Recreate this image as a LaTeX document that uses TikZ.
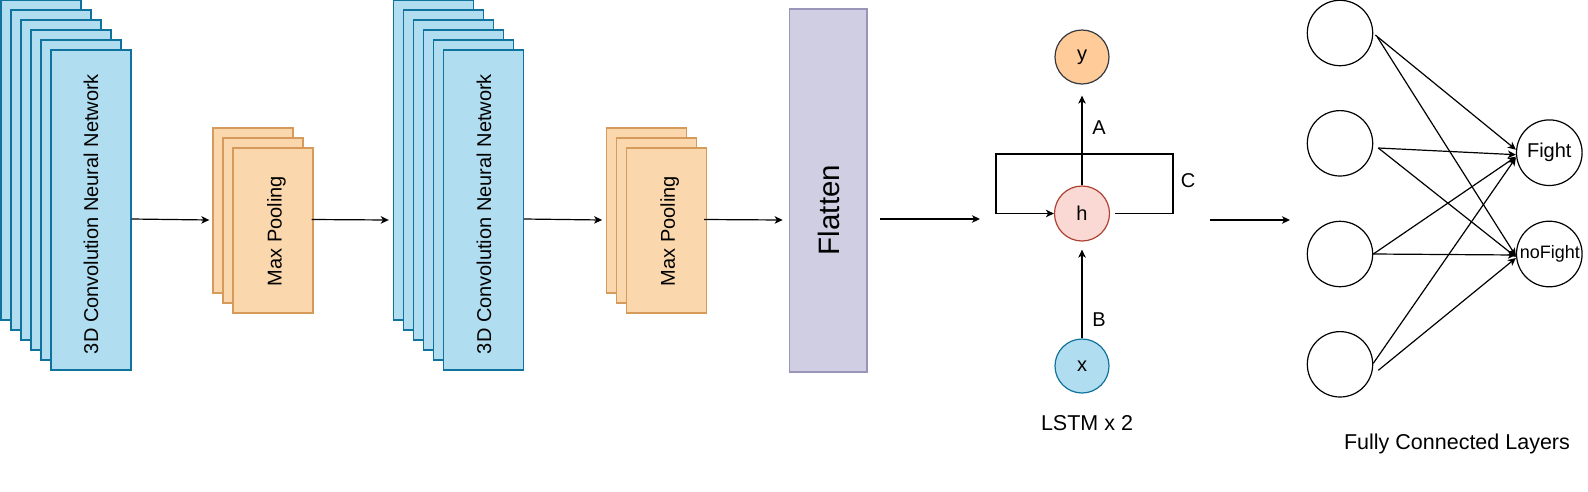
\documentclass[tikz,border=0pt]{standalone}
\usepackage{fontspec}
\setmainfont{Liberation Sans}
\usetikzlibrary{arrows.meta,calc}
\definecolor{convfill}{HTML}{B1DDF0}
\definecolor{convline}{HTML}{10739E}
\definecolor{poolfill}{HTML}{FAD7AC}
\definecolor{poolline}{HTML}{D69A5A}
\definecolor{flatfill}{HTML}{D0CEE2}
\definecolor{flatline}{HTML}{9A95B8}
\definecolor{yfill}{HTML}{FFCC99}
\definecolor{yline}{HTML}{36393D}
\definecolor{hfill}{HTML}{FAD9D5}
\definecolor{hline}{HTML}{AE4132}
\tikzset{
  convbox/.style={draw=convline, fill=convfill, line width=1.4pt, minimum width=80pt, minimum height=320pt, inner sep=0pt},
  poolbox/.style={draw=poolline, fill=poolfill, line width=1.4pt, minimum width=80pt, minimum height=165pt, inner sep=0pt},
  flatbox/.style={draw=flatline, fill=flatfill, line width=1.4pt, minimum width=77.7pt, minimum height=363pt, inner sep=0pt},
  txt/.style={font=\fontsize{20}{24}\selectfont, inner sep=0pt},
  bigtxt/.style={font=\fontsize{21.5}{26}\selectfont, inner sep=0pt},
  vtxt/.style={font=\fontsize{20}{24}\selectfont, inner sep=0pt, rotate=90},
  ring/.style={circle, draw, line width=1.2pt, inner sep=0pt},
  arr/.style={draw, line width=1.2pt, -{Stealth[length=8pt,width=7.5pt,inset=2.2pt]}},
  plain/.style={draw, line width=1.2pt},
}
\begin{document}
\begin{tikzpicture}[x=1pt,y=-1pt]
\useasboundingbox (0,0) rectangle (1588,491);
% conv block 1
\foreach \i in {0,...,5} \node[convbox] (ca\i) at (41+10*\i,160+10*\i) {};
\node[vtxt] (calabel) at (91,214) {3D Convolution Neural Network};
% pool 1
\foreach \j in {0,1,2} \node[poolbox] (pa\j) at (253+10*\j,210.5+10*\j) {};
\node[vtxt] (palabel) at (276.5,231) {Max Pooling};
% conv block 2
\foreach \i in {0,...,5} \node[convbox] (cb\i) at (433.5+10*\i,160+10*\i) {};
\node[vtxt] (cblabel) at (484,214) {3D Convolution Neural Network};
% pool 2
\foreach \j in {0,1,2} \node[poolbox] (pb\j) at (646.3+10*\j,210.5+10*\j) {};
\node[vtxt] (pblabel) at (669.8,231) {Max Pooling};
% flatten
\node[flatbox] (flat) at (828.2,190.5) {};
\node[font=\fontsize{29.5}{34}\selectfont, inner sep=0pt, rotate=90] (flatlabel) at (828.5,210) {Flatten};
% arrows between blocks
\draw[arr] ([yshift=-9pt]ca5.east) -- ([xshift=-3pt,yshift=-9.5pt]pa0.west);
\draw[arr] ([xshift=-2pt,yshift=11pt]pa2.east) -- ([xshift=-4pt,yshift=-60pt]cb0.west);
\draw[arr] ([yshift=-9pt]cb5.east) -- ([xshift=-3.5pt,yshift=-9.5pt]pb0.west);
\draw[arr] ([xshift=-3pt,yshift=11pt]pb2.east) -- ([xshift=-6pt,yshift=-29.5pt]flat.west);
% LSTM
\node[ring, fill=yfill, draw=yline, minimum size=54pt] (y) at (1082,57) {};
\node[txt] (ylabel) at (1082,57) {y};
\node[ring, fill=hfill, draw=hline, minimum size=55pt] (h) at (1082,213.5) {};
\node[txt] (hlabel) at (1082,213.5) {h};
\node[ring, fill=convfill, draw=convline, minimum size=54pt] (x) at (1082,366) {};
\node[txt] (xlabel) at (1082,366) {x};
\coordinate (lr) at (1173,154);
\coordinate (ll) at (996,213.5);
\draw[arr] ([xshift=4.5pt]h.east) -| (lr) -| (ll) -- (h.west);
\draw[arr] (h.north) -- ([yshift=-11pt]y.south);
\draw[arr] (x.north) -- ([yshift=-8pt]h.south);
\node[txt] (alabel) at (1099,128) {A};
\node[txt] (blabel) at (1099,320) {B};
\node[txt] (clabel) at (1188,181) {C};
\node[bigtxt] (lstmlabel) at (1087,423) {LSTM x 2};
\coordinate (flatout) at (880,219);
\coordinate (lstmin) at (980,219);
\draw[arr] (flatout) -- (lstmin);
\coordinate (lstmout) at (1210,220);
\coordinate (fcin) at (1290,220);
\draw[arr] (lstmout) -- (fcin);
% fully connected
\foreach \k/\yy in {1/33,2/143.3,3/254,4/364.3} \node[ring, minimum size=65.4pt] (in\k) at (1340,\yy) {};
\node[ring, minimum size=65.6pt] (fight) at (1549.3,152.7) {};
\node[txt] (fightlabel) at (1549.3,152.7) {Fight};
\node[ring, minimum size=65.6pt] (nofight) at (1549.3,254) {};
\node[font=\fontsize{18}{22}\selectfont, inner sep=0pt] (nofightlabel) at (1549.8,254) {noFight};
\draw[arr] ([xshift=2pt,yshift=-2pt]in1.east) -- ([yshift=3pt]fight.west);
\draw[arr] ([xshift=4pt,yshift=-4pt]in1.east) -- ([yshift=-2pt]nofight.west);
\draw[arr] ([xshift=5pt,yshift=-4.7pt]in2.east) -- ([yshift=-2pt]fight.west);
\draw[arr] ([xshift=5pt,yshift=-4.7pt]in2.east) -- ([yshift=-3pt]nofight.west);
\draw[arr] (in3.east) -- ([yshift=-4pt]fight.west);
\draw[arr] (in3.east) -- ([yshift=-1pt]nofight.west);
\draw[arr] ([yshift=1pt]in4.east) -- ([yshift=-5pt]fight.west);
\draw[arr] ([xshift=5pt,yshift=-6pt]in4.east) -- ([yshift=-4pt]nofight.west);
\node[bigtxt] (fclabel) at (1457,444) {Fully Connected Layers};
\end{tikzpicture}
\end{document}
